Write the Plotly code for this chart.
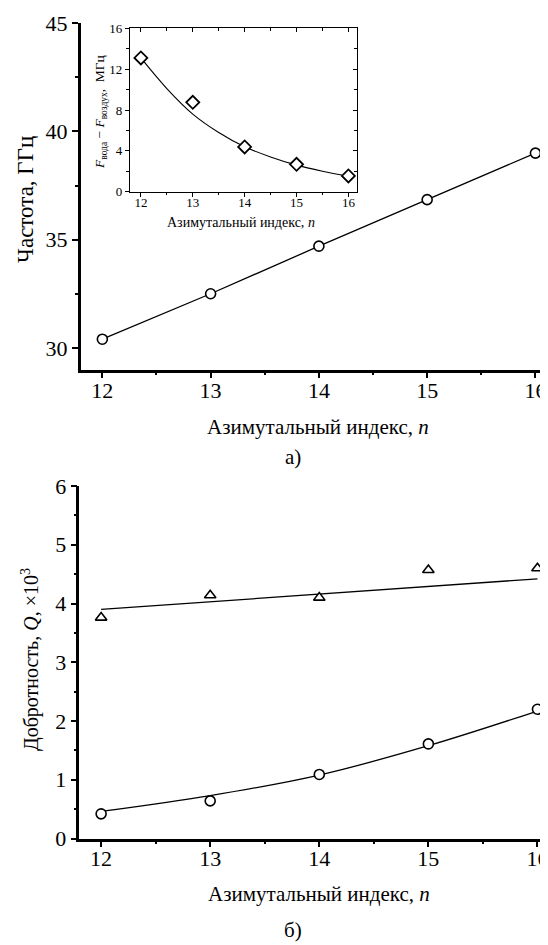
import plotly.graph_objects as go

# ---- data ----
n_idx = [12, 13, 14, 15, 16]
freq_ghz = [30.4, 32.5, 34.7, 36.85, 39.0]

inset_diff_mhz = [13.1, 8.75, 4.38, 2.68, 1.54]
inset_fit_n = [12, 12.5, 13, 13.5, 14, 14.5, 15, 15.5, 16]
inset_fit_v = [13.1, 10.1, 7.6, 5.8, 4.4, 3.4, 2.6, 2.0, 1.5]

q_air = [3.76, 4.14, 4.10, 4.57, 4.60]
q_air_fit_n = [12, 16]
q_air_fit_v = [3.90, 4.42]
q_water = [0.42, 0.64, 1.09, 1.61, 2.20]
q_water_fit_v = [0.46, 0.73, 1.08, 1.58, 2.17]

x_ticks = [12, 13, 14, 15, 16]
top_y_ticks = [30, 35, 40, 45]
inset_y_ticks = [0, 4, 8, 12, 16]
bot_y_ticks = [0, 1, 2, 3, 4, 5, 6]

W, H = 548, 945
OFF = 8  # page offset of the figure (body margin)
FONT = "Liberation Serif, Times New Roman, Tinos, DejaVu Serif, serif"

def px_x(p):
    return (p - OFF) / W

def px_y(p):
    return 1 - (p - OFF) / H

fig = go.Figure()
fig.add_trace(go.Scatter(x=n_idx, y=freq_ghz, mode="lines+markers",
                         line=dict(color="black", width=1.3),
                         marker=dict(symbol="circle", size=10, color="white",
                                     line=dict(color="black", width=1.6)),
                         xaxis="x", yaxis="y", showlegend=False))
fig.add_trace(go.Scatter(x=inset_fit_n, y=inset_fit_v, mode="lines",
                         line=dict(color="black", width=1.1, shape="spline"),
                         xaxis="x2", yaxis="y2", showlegend=False))
fig.add_trace(go.Scatter(x=n_idx, y=inset_diff_mhz, mode="markers",
                         marker=dict(symbol="diamond", size=10, color="white",
                                     line=dict(color="black", width=1.8)),
                         xaxis="x2", yaxis="y2", showlegend=False))
fig.add_trace(go.Scatter(x=[None], y=[None], mode="markers",
                         xaxis="x3", yaxis="y3", showlegend=False))
fig.add_trace(go.Scatter(x=q_air_fit_n, y=q_air_fit_v, mode="lines",
                         line=dict(color="black", width=1.3),
                         xaxis="x4", yaxis="y4", showlegend=False))
fig.add_trace(go.Scatter(x=n_idx, y=q_water_fit_v, mode="lines",
                         line=dict(color="black", width=1.3, shape="spline"),
                         xaxis="x4", yaxis="y4", showlegend=False))
fig.add_trace(go.Scatter(x=n_idx, y=q_air, mode="markers",
                         marker=dict(symbol="triangle-up", size=10, color="white",
                                     line=dict(color="black", width=1.6)),
                         xaxis="x4", yaxis="y4", showlegend=False))
fig.add_trace(go.Scatter(x=n_idx, y=q_water, mode="markers",
                         marker=dict(symbol="circle", size=10, color="white",
                                     line=dict(color="black", width=1.6)),
                         xaxis="x4", yaxis="y4", showlegend=False))

main_tick_font = dict(family=FONT, size=22, color="black")
inset_tick_font = dict(family=FONT, size=13, color="black")

def main_axis(domain, rng, tickvals, minor_dtick, anchor, standoff=0):
    return dict(domain=domain, range=rng, anchor=anchor, automargin=False,
                tickmode="array", tickvals=tickvals, ticklabelstandoff=standoff,
                showline=True, linecolor="black", linewidth=2.5,
                ticks="outside", ticklen=6, tickwidth=2, tickcolor="black",
                minor=dict(ticks="outside", ticklen=3, tickwidth=2,
                           tickcolor="black", dtick=minor_dtick, tick0=0),
                showgrid=False, zeroline=False, tickfont=main_tick_font,
                fixedrange=True)

top_x_range = [11.8, 16.19]
bot_x_range = [11.8, 16.17]

layout = dict(
    width=W, height=H,
    margin=dict(l=0, r=0, t=0, b=0, autoexpand=False),
    paper_bgcolor="white", plot_bgcolor="rgba(0,0,0,0)",
    font=dict(family=FONT, color="black"),
    xaxis=main_axis([px_x(80.7), 1.0], top_x_range, x_ticks, 0.5, "y", -7),
    yaxis=main_axis([px_y(369.5), px_y(23.3)], [29, 45], top_y_ticks, 2.5, "x"),
    xaxis4=main_axis([px_x(79.3), 1.0], bot_x_range, x_ticks, 0.5, "y4", -8),
    yaxis4=main_axis([px_y(838.5), px_y(486)], [0, 6], bot_y_ticks, 0.5, "x4"),
    xaxis2=dict(domain=[px_x(130), px_x(356.7)], range=[11.79, 16.16], anchor="y2",
                automargin=False, tickmode="array", tickvals=x_ticks,
                ticklabelstandoff=-5,
                showline=True, linecolor="black", linewidth=1.2, mirror=True,
                ticks="outside", ticklen=4, tickwidth=1, tickcolor="black",
                minor=dict(ticks="outside", ticklen=2.5, tickwidth=1,
                           tickcolor="black", dtick=0.5, tick0=0),
                showgrid=False, zeroline=False, tickfont=inset_tick_font,
                fixedrange=True),
    yaxis2=dict(domain=[px_y(191.7), px_y(28.3)], range=[0, 16], anchor="x2",
                automargin=False, tickmode="array", tickvals=inset_y_ticks,
                showline=True, linecolor="black", linewidth=1.2, mirror=True,
                ticks="outside", ticklen=4, tickwidth=1, tickcolor="black",
                minor=dict(ticks="outside", ticklen=2.5, tickwidth=1,
                           tickcolor="black", dtick=2, tick0=0),
                showgrid=False, zeroline=False, tickfont=inset_tick_font,
                fixedrange=True),
    xaxis3=dict(overlaying="x2", side="top", anchor="y2", range=[11.79, 16.16],
                automargin=False, tickmode="array", tickvals=x_ticks, showticklabels=False,
                showline=False, ticks="inside", ticklen=4, tickwidth=1, tickcolor="black",
                minor=dict(ticks="inside", ticklen=2.5, tickwidth=1,
                           tickcolor="black", dtick=0.5, tick0=0),
                showgrid=False, zeroline=False, fixedrange=True),
    yaxis3=dict(overlaying="y2", side="right", anchor="x2", range=[0, 16],
                automargin=False, tickmode="array", tickvals=inset_y_ticks, showticklabels=False,
                showline=False, ticks="inside", ticklen=4, tickwidth=1, tickcolor="black",
                minor=dict(ticks="inside", ticklen=2.5, tickwidth=1,
                           tickcolor="black", dtick=2, tick0=0),
                showgrid=False, zeroline=False, fixedrange=True),
)
fig.update_layout(**layout)

fig.add_shape(type="rect", xref="paper", yref="paper",
              x0=px_x(130), x1=px_x(356.7), y0=px_y(191.7), y1=px_y(28.3),
              fillcolor="white", line=dict(width=0), layer="below")

def ann(text, x, y, size, angle=0):
    fig.add_annotation(text=text, x=px_x(x), y=px_y(y), xref="paper", yref="paper",
                       showarrow=False, textangle=angle, xanchor="center", yanchor="middle",
                       font=dict(family=FONT, size=size, color="black"))

ann("Азимутальный индекс, <i>n</i>", 318, 427, 21)
ann("а)", 293, 457, 21)
ann("Частота, ГГц", 26, 200, 23, -90)
ann("Азимутальный индекс, <i>n</i>", 241, 222, 14)
ann("<i>F</i><sub>вода</sub> − <i>F</i><sub>воздух</sub>,  МГц", 100, 112, 13.5, -90)
ann("Азимутальный индекс, <i>n</i>", 319, 894, 21)
ann("б)", 293, 930, 21)
ann("Добротность, <i>Q</i>, ×10<sup>3</sup>", 30, 660, 20, -90)

fig.write_html("out.html")
